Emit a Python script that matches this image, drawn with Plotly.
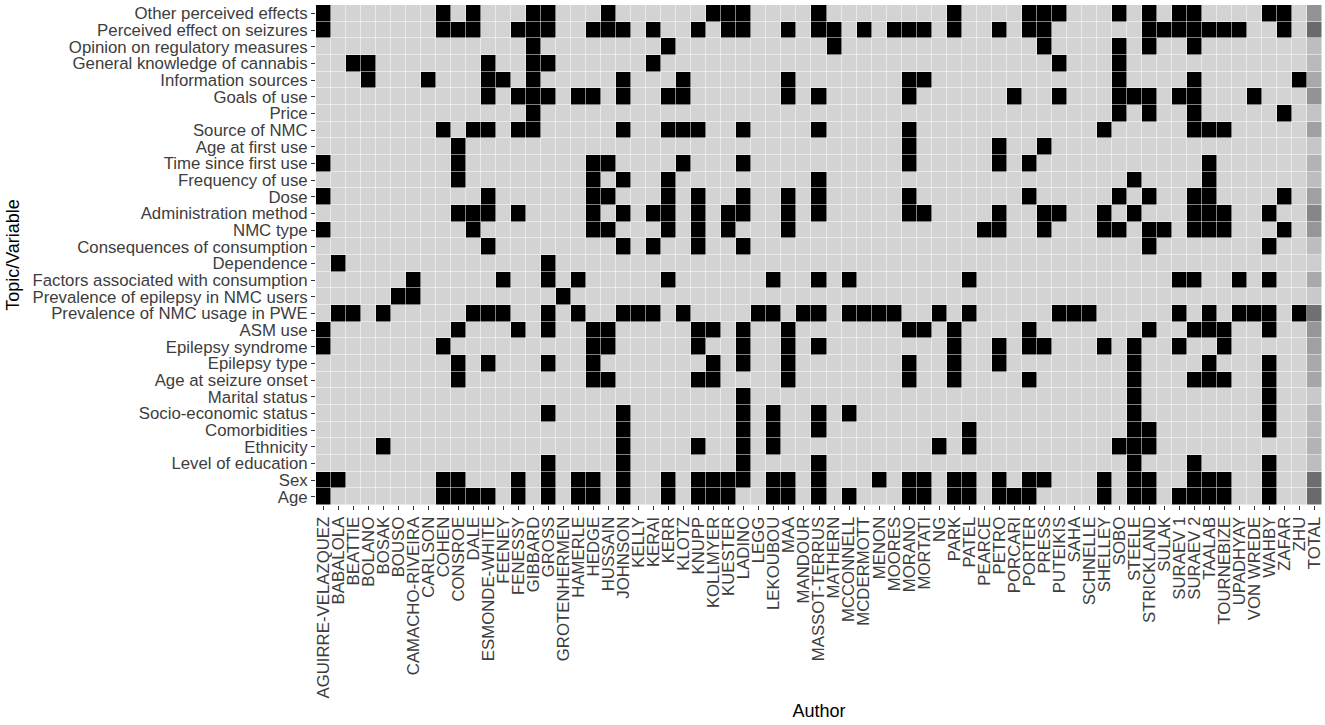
import plotly.graph_objects as go

authors = ["AGUIRRE-VELAZQUEZ", "BABALOLA", "BEATTIE", "BOLANO", "BOSAK", "BOUSO",
           "CAMACHO-RIVEIRA", "CARLSON", "COHEN", "CONSROE", "DALE", "ESMONDE-WHITE",
           "FEENEY", "FENESSY", "GIBBARD", "GROSS", "GROTENHERMEN", "HAMERLE", "HEDGE",
           "HUSSAIN", "JOHNSON", "KELLY", "KERAI", "KERR", "KLOTZ", "KNUPP", "KOLLMYER",
           "KUESTER", "LADINO", "LEGG", "LEKOUBOU", "MAA", "MANDOUR", "MASSOT-TERRUS",
           "MATHERN", "MCCONNELL", "MCDERMOTT", "MENON", "MOORES", "MORANO", "MORTATI",
           "NG", "PARK", "PATEL", "PEARCE", "PETRO", "PORCARI", "PORTER", "PRESS",
           "PUTEIKIS", "SAHA", "SCHNELLE", "SHELLEY", "SOBO", "STEELE", "STRICKLAND",
           "SULAK", "SURAEV 1", "SURAEV 2", "TAALAB", "TOURNEBIZE", "UPADHYAY",
           "VON WREDE", "WAHBY", "ZAFAR", "ZHU"]

topics = ["Other perceived effects", "Perceived effect on seizures",
          "Opinion on regulatory measures", "General knowledge of cannabis",
          "Information sources", "Goals of use", "Price", "Source of NMC",
          "Age at first use", "Time since first use", "Frequency of use", "Dose",
          "Administration method", "NMC type", "Consequences of consumption",
          "Dependence", "Factors associated with consumption",
          "Prevalence of epilepsy in NMC users", "Prevalence of NMC usage in PWE",
          "ASM use", "Epilepsy syndrome", "Epilepsy type", "Age at seizure onset",
          "Marital status", "Socio-economic status", "Comorbidities", "Ethnicity",
          "Level of education", "Sex", "Age"]

# 1-based author numbers that cover each topic (same order as topics)
covered_by = [
    [1, 9, 11, 15, 16, 20, 27, 28, 29, 34, 43, 48, 49, 50, 54, 56, 58, 59, 64, 65],
    [1, 9, 10, 11, 14, 15, 16, 19, 20, 21, 23, 26, 28, 29, 32, 34, 35, 37, 39, 40, 41,
     43, 46, 48, 49, 56, 57, 58, 59, 60, 61, 62, 65],
    [15, 24, 35, 49, 54, 56, 59],
    [3, 4, 12, 15, 16, 23, 50, 54],
    [4, 8, 12, 13, 15, 21, 25, 32, 40, 41, 54, 59, 66],
    [12, 14, 15, 16, 18, 19, 21, 24, 25, 32, 34, 40, 47, 50, 54, 55, 56, 58, 59, 63],
    [15, 54, 56, 59, 65],
    [9, 11, 12, 14, 15, 21, 24, 25, 26, 29, 34, 40, 53, 59, 60, 61],
    [10, 40, 46, 49],
    [1, 10, 19, 20, 25, 29, 40, 46, 48, 60],
    [10, 19, 21, 24, 34, 55, 60],
    [1, 12, 19, 20, 24, 26, 29, 32, 34, 40, 48, 54, 56, 59, 60, 65],
    [10, 11, 12, 14, 19, 21, 23, 24, 26, 28, 29, 32, 34, 40, 41, 46, 49, 50, 53, 55,
     59, 60, 61, 64],
    [1, 11, 19, 20, 24, 26, 28, 32, 45, 46, 49, 53, 54, 56, 57, 59, 60, 61, 65],
    [12, 21, 23, 26, 29, 56, 64],
    [2, 16],
    [7, 13, 16, 18, 24, 31, 34, 36, 44, 58, 59, 62, 64],
    [6, 7, 17],
    [2, 3, 5, 11, 12, 13, 16, 18, 21, 22, 23, 25, 30, 31, 33, 34, 36, 37, 38, 39, 42,
     44, 50, 51, 52, 58, 60, 62, 63, 64, 66],
    [1, 10, 14, 16, 19, 20, 26, 27, 29, 32, 40, 41, 43, 48, 56, 59, 60, 61, 64],
    [1, 9, 19, 20, 26, 29, 32, 34, 43, 46, 48, 49, 53, 55, 58, 61],
    [10, 12, 16, 19, 27, 29, 32, 40, 43, 46, 55, 60, 64],
    [10, 19, 20, 26, 27, 32, 40, 43, 48, 55, 59, 60, 61, 64],
    [29, 55, 64],
    [16, 21, 29, 31, 34, 36, 55, 64],
    [21, 29, 31, 34, 44, 55, 56, 64],
    [5, 21, 26, 29, 31, 42, 44, 54, 55, 56],
    [16, 21, 29, 34, 55, 59, 64],
    [1, 2, 9, 10, 14, 16, 18, 19, 21, 24, 26, 27, 28, 29, 31, 32, 34, 38, 40, 41, 43,
     44, 46, 48, 49, 53, 55, 56, 59, 60, 61, 64],
    [1, 9, 10, 11, 12, 14, 16, 18, 19, 21, 24, 26, 27, 28, 31, 32, 34, 36, 40, 41, 43,
     44, 46, 47, 48, 53, 55, 56, 58, 59, 60, 61, 64],
]

total_label = "TOTAL"

n_auth = len(authors)
z = []
text = []
for idx_list in covered_by:
    row = [1.0 if (i + 1) in idx_list else 0.0 for i in range(n_auth)]
    total = sum(row)
    row.append(total / n_auth)
    z.append(row)
    text.append([str(int(v)) for v in row[:-1]] + [str(int(total))])

x_cats = authors + [total_label]

fig = go.Figure(go.Heatmap(
    z=z, x=x_cats, y=topics, text=text,
    hovertemplate="%{x}<br>%{y}: %{text}<extra></extra>",
    colorscale=[[0, "#d3d3d3"], [1, "#000000"]],
    zmin=0, zmax=1, showscale=False, xgap=0.5, ygap=0.5,
))

font_family = "Liberation Sans, Arial, sans-serif"
fig.update_layout(
    width=1325, height=725,
    margin=dict(l=316, r=3, t=5, b=220, autoexpand=False),
    paper_bgcolor="white", plot_bgcolor="white",
    font=dict(family=font_family, color="#4d4d4d"),
    xaxis=dict(
        type="category", categoryorder="array", categoryarray=x_cats,
        tickmode="array", tickvals=x_cats, ticktext=x_cats,
        tickangle=-90, ticks="outside", ticklen=4, tickwidth=1, tickcolor="#333333",
        tickfont=dict(size=16.8, color="#3d3d3d", family=font_family),
        showgrid=False, zeroline=False, showline=False, automargin=False,
        title=dict(text="Author", font=dict(size=18, color="black", family=font_family),
                   standoff=6),
    ),
    yaxis=dict(
        type="category", categoryorder="array", categoryarray=topics,
        tickmode="array", tickvals=topics, ticktext=topics,
        autorange="reversed", ticks="outside", ticklen=4, tickwidth=1,
        tickcolor="#333333",
        tickfont=dict(size=16.8, color="#3d3d3d", family=font_family),
        showgrid=False, zeroline=False, showline=False, automargin=False,
        title=dict(text="Topic/Variable", font=dict(size=18, color="black",
                                                     family=font_family), standoff=8),
    ),
)

fig.write_html("out.html",
               config={"displayModeBar": False},
               post_script="document.body.style.margin='0';"
                           "document.body.style.overflow='hidden';")
